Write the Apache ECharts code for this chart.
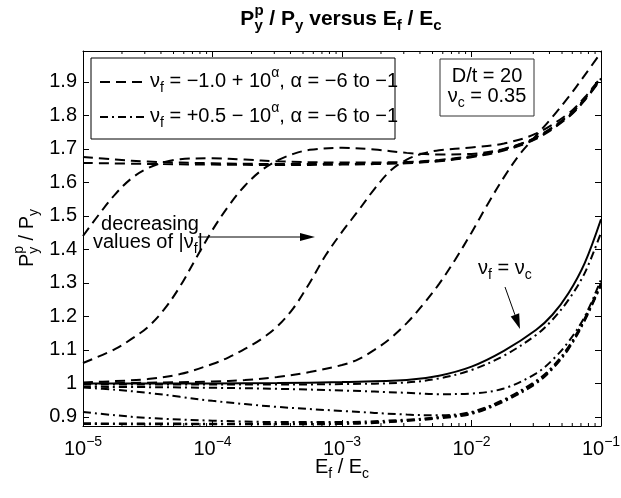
<!DOCTYPE html>
<html><head><meta charset="utf-8">
<script src="https://cdn.jsdelivr.net/npm/echarts@6/dist/echarts.min.js"></script>
<style>html,body{margin:0;padding:0;background:#fff}#c{width:621px;height:498px}</style>
</head><body><div id="c"></div>
<script>
// ---------- axis ticks ----------
const xTicks = [1e-5, 1e-4, 1e-3, 1e-2, 1e-1];
const xTickExp = ['\u22125', '\u22124', '\u22123', '\u22122', '\u22121'];
const minorMultipliers = [2, 3, 4, 5, 6, 7, 8, 9];
const yTicks = [0.9, 1.0, 1.1, 1.2, 1.3, 1.4, 1.5, 1.6, 1.7, 1.8, 1.9];
const yTickLabels = ['0.9', '1', '1.1', '1.2', '1.3', '1.4', '1.5', '1.6', '1.7', '1.8', '1.9'];
const yMin = 0.873, yMax = 1.992;

// ---------- data: [log10(Ef/Ec), Pyp/Py] ----------
// dashed family: nu_f = -1.0 + 10^alpha, alpha = -6 ... -1
const dashAlphaM6 = [[-5,1.658],[-4.5,1.655],[-4,1.653],[-3.5,1.652],[-3,1.653],[-2.5,1.657],[-2.25,1.663],[-2,1.675],[-1.75,1.695],[-1.5,1.73],[-1.25,1.795],[-1.125,1.845],[-1,1.908]];
const dashAlphaM5 = [[-5,1.676],[-4.75,1.668],[-4.5,1.662],[-4,1.657],[-3.5,1.655],[-3,1.655],[-2.5,1.659],[-2.25,1.665],[-2,1.677],[-1.75,1.697],[-1.5,1.732],[-1.25,1.797],[-1.125,1.847],[-1,1.91]];
const dashAlphaM4 = [[-5,1.44],[-4.875,1.505],[-4.75,1.565],[-4.625,1.612],[-4.5,1.642],[-4.375,1.66],[-4.25,1.669],[-4,1.672],[-3.75,1.668],[-3.5,1.663],[-3,1.659],[-2.5,1.661],[-2.25,1.667],[-2,1.679],[-1.75,1.699],[-1.5,1.734],[-1.25,1.799],[-1.125,1.849],[-1,1.91]];
const dashAlphaM3 = [[-5,1.061],[-4.75,1.103],[-4.625,1.133],[-4.5,1.168],[-4.375,1.22],[-4.25,1.29],[-4.125,1.375],[-4,1.458],[-3.875,1.53],[-3.75,1.59],[-3.625,1.635],[-3.5,1.665],[-3.375,1.685],[-3.25,1.697],[-3,1.703],[-2.75,1.698],[-2.5,1.688],[-2.25,1.683],[-2,1.685],[-1.75,1.70],[-1.5,1.735],[-1.25,1.80],[-1.125,1.85],[-1,1.912]];
const dashAlphaM2 = [[-5,1.003],[-4.75,1.007],[-4.5,1.013],[-4.25,1.028],[-4,1.058],[-3.875,1.078],[-3.75,1.103],[-3.625,1.132],[-3.5,1.17],[-3.375,1.225],[-3.25,1.30],[-3.125,1.383],[-3,1.452],[-2.875,1.515],[-2.75,1.58],[-2.625,1.635],[-2.5,1.668],[-2.375,1.686],[-2.25,1.696],[-2,1.704],[-1.75,1.716],[-1.5,1.746],[-1.25,1.806],[-1.125,1.854],[-1,1.915]];
const dashAlphaM1 = [[-5,1.0],[-4.5,1.002],[-4,1.006],[-3.75,1.01],[-3.5,1.019],[-3.25,1.034],[-3,1.055],[-2.875,1.072],[-2.75,1.1],[-2.625,1.135],[-2.5,1.18],[-2.375,1.235],[-2.25,1.297],[-2.125,1.37],[-2,1.45],[-1.875,1.535],[-1.75,1.615],[-1.625,1.685],[-1.5,1.74],[-1.375,1.795],[-1.25,1.855],[-1.125,1.92],[-1,1.988]];
// dash-dot family: nu_f = +0.5 - 10^alpha, alpha = -6 ... -1
const ddAlphaM1 = [[-5,0.997],[-4,0.997],[-3.5,0.997],[-3,0.998],[-2.5,1.003],[-2.25,1.015],[-2,1.04],[-1.75,1.083],[-1.5,1.145],[-1.375,1.19],[-1.25,1.25],[-1.125,1.33],[-1,1.45]];
const ddAlphaM2 = [[-5,0.99],[-4.5,0.989],[-4,0.987],[-3.5,0.984],[-3,0.979],[-2.5,0.972],[-2.25,0.968],[-2,0.97],[-1.75,0.985],[-1.5,1.03],[-1.375,1.07],[-1.25,1.125],[-1.125,1.2],[-1,1.31]];
const ddAlphaM3 = [[-5,0.988],[-4.75,0.981],[-4.5,0.972],[-4.25,0.96],[-4,0.948],[-3.5,0.93],[-3,0.918],[-2.5,0.907],[-2.25,0.905],[-2,0.915],[-1.75,0.952],[-1.5,1.008],[-1.375,1.05],[-1.25,1.11],[-1.125,1.195],[-1,1.30]];
const ddAlphaM4 = [[-5,0.915],[-4.75,0.905],[-4.5,0.897],[-4,0.889],[-3.5,0.885],[-3,0.885],[-2.5,0.892],[-2.25,0.9],[-2,0.913],[-1.75,0.95],[-1.5,1.005],[-1.375,1.047],[-1.25,1.107],[-1.125,1.192],[-1,1.297]];
const ddAlphaM5 = [[-5,0.881],[-4,0.88],[-3.5,0.88],[-3,0.881],[-2.75,0.884],[-2.5,0.89],[-2.25,0.898],[-2,0.911],[-1.75,0.948],[-1.5,1.003],[-1.375,1.045],[-1.25,1.105],[-1.125,1.19],[-1,1.295]];
const ddAlphaM6 = [[-5,0.879],[-4,0.878],[-3.5,0.878],[-3,0.879],[-2.75,0.882],[-2.5,0.888],[-2.25,0.896],[-2,0.909],[-1.75,0.946],[-1.5,1.0],[-1.375,1.043],[-1.25,1.103],[-1.125,1.188],[-1,1.293]];
// solid: nu_f = nu_c
const solidNuC = [[-5,1.0],[-4,1.0],[-3.5,1.001],[-3,1.004],[-2.5,1.01],[-2.25,1.023],[-2,1.05],[-1.75,1.097],[-1.5,1.16],[-1.375,1.205],[-1.25,1.27],[-1.125,1.36],[-1,1.49]];

// ---------- helpers ----------
const FONT = '"Liberation Sans", Arial, Helvetica, sans-serif';
const FS = 20;
const DASH = [10, 6];
const DASHDOT = [8, 4, 2, 4];
const mctx = document.createElement('canvas').getContext('2d');
function textRow(list, opt) {
  let x = 0; const els = [];
  const z = opt.z || 20;
  for (const p of list) {
    const grp = p.stack ? p.stack : [p];
    let w = 0;
    for (const q of grp) {
      const fs = q.fs || opt.fs || FS, fw = q.fw || opt.fw || 'normal';
      mctx.font = fw + ' ' + fs + 'px ' + FONT;
      const qw = mctx.measureText(q.t).width;
      els.push({type: 'text', x: x, y: q.dy || 0, silent: true, z: z,
        style: {text: q.t, fontSize: fs, fontWeight: fw, fontFamily: FONT, fill: '#000', align: 'left', verticalAlign: 'middle'}});
      w = Math.max(w, qw);
    }
    x += w;
  }
  const shift = opt.align === 'center' ? -x / 2 : 0;
  els.forEach(e => { e.x += shift; });
  return {type: 'group', x: opt.x, y: opt.y, z: z, rotation: opt.rotation || 0, children: els};
}
const sub = (t, fs) => ({t: t, fs: fs || 14, dy: 7});
const sup = (t, fs) => ({t: t, fs: fs || 14, dy: -8});
function arrow(x1, y1, x2, y2, hl, hw) {
  const dx = x2 - x1, dy = y2 - y1, L = Math.hypot(dx, dy), ux = dx / L, uy = dy / L;
  const bx = x2 - ux * hl, by = y2 - uy * hl;
  return [
    {type: 'line', silent: true, z: 20, shape: {x1: x1, y1: y1, x2: bx, y2: by}, style: {stroke: '#000', lineWidth: 1}},
    {type: 'polygon', silent: true, z: 20, shape: {points: [[x2, y2], [bx - uy * hw / 2, by + ux * hw / 2], [bx + uy * hw / 2, by - ux * hw / 2]]}, style: {fill: '#000'}}
  ];
}

const toData = arr => arr.map(p => [Math.pow(10, p[0]), p[1]]);
const minorTicks = [];
xTicks.slice(0, -1).forEach(d => minorMultipliers.forEach(m => minorTicks.push([d * m, yMin])));

function lineSeries(d, type, name) {
  return {type: 'line', name: name, data: toData(d), showSymbol: false, symbol: 'none', smooth: 0.35,
    lineStyle: {color: '#000', width: 2, type: type}, silent: true, z: 3, clip: true};
}

const series = [
  lineSeries(dashAlphaM6, DASH, 'd6'), lineSeries(dashAlphaM5, DASH, 'd5'), lineSeries(dashAlphaM4, DASH, 'd4'),
  lineSeries(dashAlphaM3, DASH, 'd3'), lineSeries(dashAlphaM2, DASH, 'd2'), lineSeries(dashAlphaM1, DASH, 'd1'),
  lineSeries(ddAlphaM6, DASHDOT, 'dd6'), lineSeries(ddAlphaM5, DASHDOT, 'dd5'), lineSeries(ddAlphaM4, DASHDOT, 'dd4'),
  lineSeries(ddAlphaM3, DASHDOT, 'dd3'), lineSeries(ddAlphaM2, DASHDOT, 'dd2'), lineSeries(ddAlphaM1, DASHDOT, 'dd1'),
  lineSeries(solidNuC, 'solid', 'solid'),
  {type: 'custom', name: 'minorTicks', data: minorTicks, silent: true, clip: false, z: 5,
    renderItem: (params, api) => {
      const v = api.value(0);
      const pb = api.coord([v, yMin]), pt = api.coord([v, yMax]);
      return {type: 'group', children: [
        {type: 'line', shape: {x1: pb[0], y1: pb[1], x2: pb[0], y2: pb[1] - 3}, style: {stroke: '#000', lineWidth: 1}},
        {type: 'line', shape: {x1: pt[0], y1: pt[1], x2: pt[0], y2: pt[1] + 3}, style: {stroke: '#000', lineWidth: 1}}
      ]};
    }}
];

const axisCommon = {
  axisLine: {show: true, onZero: false, lineStyle: {color: '#000', width: 1}},
  axisTick: {show: true, inside: true, length: 6, lineStyle: {color: '#000', width: 1}},
  splitLine: {show: false}, minorTick: {show: false}, minorSplitLine: {show: false}
};
const xLabelIdx = v => xTicks.findIndex(t => Math.abs(Math.log10(t) - Math.log10(v)) < 1e-6);

const graphics = [];
// title
graphics.push(textRow([{t: 'P'}, {stack: [sup('p', 15), sub('y', 15)]}, {t: ' / P'}, sub('y', 15), {t: ' versus E'}, sub('f', 15), {t: ' / E'}, sub('c', 15)],
  {x: 341, y: 19, align: 'center', fw: 'bold', fs: 21}));
// x axis name
graphics.push(textRow([{t: 'E'}, sub('f'), {t: ' / E'}, sub('c')], {x: 342, y: 467, align: 'center'}));
// y axis name (rotated)
graphics.push(textRow([{t: 'P'}, {stack: [sup('p'), sub('y')]}, {t: ' / P'}, sub('y')], {x: 27, y: 238, align: 'center', rotation: Math.PI / 2}));
// legend box
graphics.push({type: 'rect', silent: true, z: 10, shape: {x: 91, y: 58, width: 304, height: 81}, style: {fill: '#fff', stroke: '#000', lineWidth: 1}});
graphics.push({type: 'line', silent: true, z: 20, shape: {x1: 100, y1: 82, x2: 146, y2: 82}, style: {stroke: '#000', lineWidth: 2, lineDash: DASH}});
graphics.push({type: 'line', silent: true, z: 20, shape: {x1: 100, y1: 117, x2: 146, y2: 117}, style: {stroke: '#000', lineWidth: 2, lineDash: DASHDOT}});
graphics.push(textRow([{t: '\u03bd'}, sub('f'), {t: ' = \u22121.0 + 10'}, sup('\u03b1'), {t: ', \u03b1 = \u22126 to \u22121'}], {x: 150, y: 81}));
graphics.push(textRow([{t: '\u03bd'}, sub('f'), {t: ' = +0.5 \u2212 10'}, sup('\u03b1'), {t: ', \u03b1 = \u22126 to \u22121'}], {x: 150, y: 116}));
// info box
graphics.push({type: 'rect', silent: true, z: 10, shape: {x: 440, y: 59, width: 94, height: 57}, style: {fill: '#fff', stroke: '#333', lineWidth: 1}});
graphics.push(textRow([{t: 'D/t = 20'}], {x: 487, y: 76, align: 'center'}));
graphics.push(textRow([{t: '\u03bd'}, sub('c'), {t: ' = 0.35'}], {x: 487, y: 96, align: 'center'}));
// annotations
graphics.push(textRow([{t: 'decreasing'}], {x: 150, y: 224, align: 'center'}));
graphics.push(textRow([{t: 'values of |\u03bd'}, sub('f'), {t: '|'}], {x: 93, y: 242}));
arrow(198, 237, 315, 237, 15, 8).forEach(e => graphics.push(e));
graphics.push(textRow([{t: '\u03bd'}, sub('f'), {t: ' = \u03bd'}, sub('c')], {x: 478, y: 268}));
arrow(505, 287, 520, 329, 15, 9).forEach(e => graphics.push(e));

const chart = echarts.init(document.getElementById('c'), null, {renderer: 'canvas'});
chart.setOption({
  animation: false,
  backgroundColor: '#fff',
  grid: {left: 83, right: 20, top: 51, bottom: 72, containLabel: false, outerBoundsMode: 'none'},
  xAxis: [
    Object.assign({}, axisCommon, {type: 'log', logBase: 10, min: xTicks[0], max: xTicks[xTicks.length - 1], position: 'bottom',
      axisLabel: {margin: 9, color: '#000',
        formatter: v => { const i = xLabelIdx(v); return i < 0 ? '' : '{b|10}{s|' + xTickExp[i] + '}'; },
        rich: {b: {fontSize: FS, fontFamily: FONT, color: '#000', lineHeight: 24, verticalAlign: 'bottom'},
               s: {fontSize: 14, fontFamily: FONT, color: '#000', lineHeight: 6, verticalAlign: 'top'}}}}),
    Object.assign({}, axisCommon, {type: 'log', logBase: 10, min: xTicks[0], max: xTicks[xTicks.length - 1], position: 'top', axisLabel: {show: false}})
  ],
  yAxis: [
    Object.assign({}, axisCommon, {type: 'value', min: yMin, max: yMax, position: 'left',
      axisTick: {show: true, inside: true, length: 6, lineStyle: {color: '#000'}, customValues: yTicks},
      axisLabel: {customValues: yTicks, margin: 6, color: '#000', fontSize: FS, fontFamily: FONT,
        formatter: v => { const i = yTicks.findIndex(t => Math.abs(t - v) < 1e-6); return i < 0 ? '' : yTickLabels[i]; }}}),
    Object.assign({}, axisCommon, {type: 'value', min: yMin, max: yMax, position: 'right',
      axisTick: {show: true, inside: true, length: 6, lineStyle: {color: '#000'}, customValues: yTicks},
      axisLabel: {show: false}})
  ],
  series: series,
  graphic: graphics
});
</script></body></html>
